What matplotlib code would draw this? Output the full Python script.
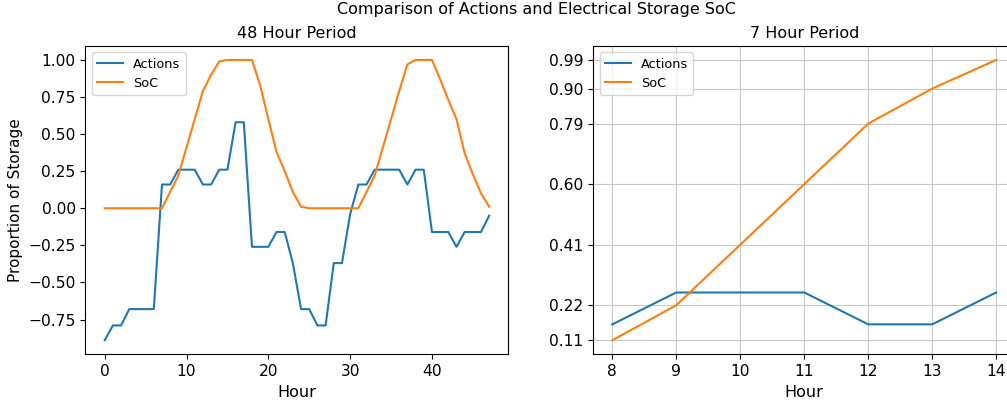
import matplotlib
matplotlib.use("Agg")
import matplotlib.pyplot as plt
import numpy as np
from matplotlib.ticker import FormatStrFormatter

# 48 hour run
hours = np.arange(48)
actions = [-0.89, -0.79, -0.79, -0.68, -0.68, -0.68, -0.68, 0.16, 0.16, 0.26,
           0.26, 0.26, 0.16, 0.16, 0.26, 0.26, 0.58, 0.58, -0.26, -0.26,
           -0.26, -0.16, -0.16, -0.37, -0.68, -0.68, -0.79, -0.79, -0.37, -0.37,
           -0.04, 0.16, 0.16, 0.26, 0.26, 0.26, 0.26, 0.16, 0.26, 0.26,
           -0.16, -0.16, -0.16, -0.26, -0.16, -0.16, -0.16, -0.05]
soc = [0.0, 0.0, 0.0, 0.0, 0.0, 0.0, 0.0, 0.0, 0.11, 0.22,
       0.41, 0.60, 0.79, 0.90, 0.99, 1.0, 1.0, 1.0, 1.0, 0.83,
       0.60, 0.38, 0.25, 0.11, 0.01, 0.0, 0.0, 0.0, 0.0, 0.0,
       0.0, 0.0, 0.11, 0.22, 0.41, 0.60, 0.79, 0.97, 1.0, 1.0,
       1.0, 0.87, 0.73, 0.60, 0.37, 0.23, 0.10, 0.01]

# 7 hour window
hours_7 = np.arange(8, 15)
actions_7 = [0.16, 0.26, 0.26, 0.26, 0.16, 0.16, 0.26]
soc_7 = [0.11, 0.22, 0.41, 0.60, 0.79, 0.90, 0.99]

fig = plt.figure(figsize=(10.07, 4.01), dpi=100)
ax1 = fig.add_axes([0.0849, 0.1165, 0.420, 0.769])
ax2 = fig.add_axes([0.589, 0.1165, 0.4193, 0.769])

# the right panel runs off the edge, so the title sits right of centre
fig.suptitle('Comparison of Actions and Electrical Storage SoC', fontsize=11.5, x=0.533, y=0.995)

ax1.plot(hours, actions, label='Actions')
ax1.plot(hours, soc, label='SoC')
ax1.set_title('48 Hour Period', fontsize=11.5)
ax1.set_xlabel('Hour', fontsize=11.5)
ax1.set_ylabel('Proportion of Storage', fontsize=11)
ax1.tick_params(labelsize=11.2)
ax1.legend(loc='upper left', fontsize=9.3)

ax2.plot(hours_7, actions_7, label='Actions')
ax2.plot(hours_7, soc_7, label='SoC')
ax2.set_title('7 Hour Period', fontsize=11.5)
ax2.set_xlabel('Hour', fontsize=11.5)
ax2.set_yticks(soc_7)
ax2.yaxis.set_major_formatter(FormatStrFormatter('%.2f'))
ax2.set_xticks(hours_7)
ax2.tick_params(labelsize=11.2)
ax2.grid(True, color='#c8c8c8')
ax2.legend(loc='upper left', fontsize=9.3)

fig.savefig('out.png', dpi=100)
